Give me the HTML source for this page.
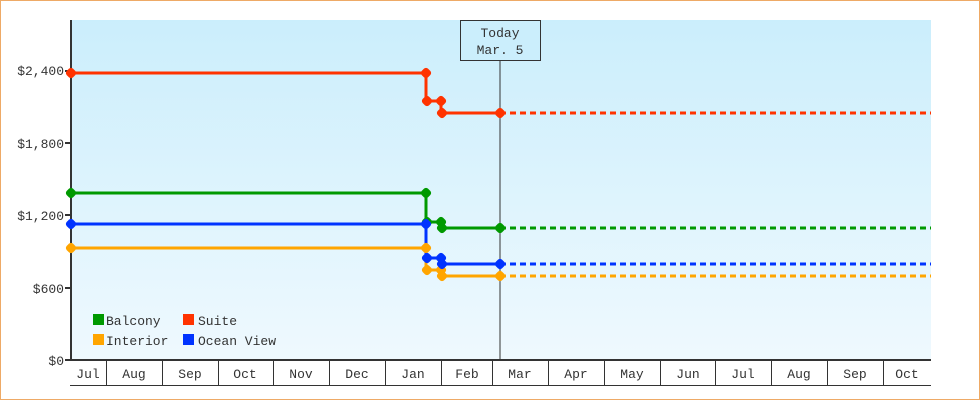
<!DOCTYPE html>
<html><head><style>
html,body{margin:0;padding:0;background:#fff}
svg{display:block}
text{font-family:"Liberation Mono","DejaVu Sans Mono",monospace;font-size:13px;fill:#333}
</style></head><body>
<svg width="980" height="400" viewBox="0 0 980 400" xmlns="http://www.w3.org/2000/svg">
<defs>
<linearGradient id="bg" x1="0" y1="0" x2="0" y2="1">
<stop offset="0" stop-color="#cbeefc"/><stop offset="1" stop-color="#eff9fe"/>
</linearGradient>
<g id="m"><rect x="-4.5" y="-4.5" width="9" height="9" rx="3" transform="rotate(45)"/></g>
</defs>
<rect x="0.5" y="0.5" width="979" height="399" fill="#fff" stroke="#eeaa66"/>
<rect x="71" y="20" width="860" height="340" fill="url(#bg)"/>
<line x1="500" y1="60" x2="500" y2="360" stroke="#333" stroke-width="1"/>
<rect x="460.5" y="20.5" width="80" height="40" fill="#cbeefc" stroke="#333"/>
<text x="500" y="37" text-anchor="middle">Today</text>
<text x="500" y="54" text-anchor="middle">Mar. 5</text>
<line x1="71" y1="20" x2="71" y2="361" stroke="#333" stroke-width="2"/>
<line x1="70" y1="360" x2="931" y2="360" stroke="#333" stroke-width="2"/>
<line x1="70" y1="385.5" x2="931" y2="385.5" stroke="#333" stroke-width="1"/>
<g stroke="#333" stroke-width="2">
<line x1="65" y1="360" x2="71" y2="360"/><line x1="65" y1="288" x2="71" y2="288"/><line x1="65" y1="215" x2="71" y2="215"/><line x1="65" y1="143" x2="71" y2="143"/><line x1="65" y1="71" x2="71" y2="71"/>
</g>
<g text-anchor="end">
<text x="64" y="365">$0</text><text x="64" y="293">$600</text><text x="64" y="220">$1,200</text><text x="64" y="148">$1,800</text><text x="64" y="75">$2,400</text>
</g>
<g stroke="#333" stroke-width="1">
<line x1="106.5" y1="360" x2="106.5" y2="385"/><line x1="162.5" y1="360" x2="162.5" y2="385"/><line x1="218.5" y1="360" x2="218.5" y2="385"/><line x1="273.5" y1="360" x2="273.5" y2="385"/><line x1="329.5" y1="360" x2="329.5" y2="385"/><line x1="385.5" y1="360" x2="385.5" y2="385"/><line x1="441.5" y1="360" x2="441.5" y2="385"/><line x1="492.5" y1="360" x2="492.5" y2="385"/><line x1="548.5" y1="360" x2="548.5" y2="385"/><line x1="604.5" y1="360" x2="604.5" y2="385"/><line x1="660.5" y1="360" x2="660.5" y2="385"/><line x1="715.5" y1="360" x2="715.5" y2="385"/><line x1="771.5" y1="360" x2="771.5" y2="385"/><line x1="827.5" y1="360" x2="827.5" y2="385"/><line x1="883.5" y1="360" x2="883.5" y2="385"/>
</g>
<g text-anchor="middle">
<text x="88" y="378">Jul</text><text x="134" y="378">Aug</text><text x="190" y="378">Sep</text><text x="245" y="378">Oct</text><text x="301" y="378">Nov</text><text x="357" y="378">Dec</text><text x="413" y="378">Jan</text><text x="467" y="378">Feb</text><text x="520" y="378">Mar</text><text x="576" y="378">Apr</text><text x="632" y="378">May</text><text x="688" y="378">Jun</text><text x="743" y="378">Jul</text><text x="799" y="378">Aug</text><text x="855" y="378">Sep</text><text x="907" y="378">Oct</text>
</g>
<g fill="none" stroke-width="3">
<polyline stroke="#ff3300" points="71,73 426,73 426,101 441,101 441,113 500,113"/>
<line stroke="#ff3300" x1="500" y1="113" x2="931" y2="113" stroke-dasharray="6,4"/>
<polyline stroke="#009900" points="71,193 426,193 426,222 441,222 441,228 500,228"/>
<line stroke="#009900" x1="500" y1="228" x2="931" y2="228" stroke-dasharray="6,4"/>
<polyline stroke="#ffa500" points="71,248 426,248 426,270 441,270 441,276 500,276"/>
<line stroke="#ffa500" x1="500" y1="276" x2="931" y2="276" stroke-dasharray="6,4"/>
<polyline stroke="#0033ff" points="71,224 426,224 426,258 441,258 441,264 500,264"/>
<line stroke="#0033ff" x1="500" y1="264" x2="931" y2="264" stroke-dasharray="6,4"/>
</g>
<g fill="#ff3300"><use href="#m" x="71" y="73"/><use href="#m" x="426" y="73"/><use href="#m" x="427" y="101"/><use href="#m" x="441" y="101"/><use href="#m" x="442" y="113"/><use href="#m" x="500" y="113"/></g>
<g fill="#ffa500"><use href="#m" x="71" y="248"/><use href="#m" x="426" y="248"/><use href="#m" x="427" y="270"/><use href="#m" x="441" y="270"/><use href="#m" x="442" y="276"/><use href="#m" x="500" y="276"/></g>
<g fill="#009900"><use href="#m" x="71" y="193"/><use href="#m" x="426" y="193"/><use href="#m" x="427" y="222"/><use href="#m" x="441" y="222"/><use href="#m" x="442" y="228"/><use href="#m" x="500" y="228"/></g>
<g fill="#0033ff"><use href="#m" x="71" y="224"/><use href="#m" x="426" y="224"/><use href="#m" x="427" y="258"/><use href="#m" x="441" y="258"/><use href="#m" x="442" y="264"/><use href="#m" x="500" y="264"/></g>
<rect x="93" y="314" width="11" height="11" fill="#009900"/><text x="106" y="325">Balcony</text>
<rect x="183" y="314" width="11" height="11" fill="#ff3300"/><text x="198" y="325">Suite</text>
<rect x="93" y="334" width="11" height="11" fill="#ffa500"/><text x="106" y="345">Interior</text>
<rect x="183" y="334" width="11" height="11" fill="#0033ff"/><text x="198" y="345">Ocean View</text>
</svg>
</body></html>
